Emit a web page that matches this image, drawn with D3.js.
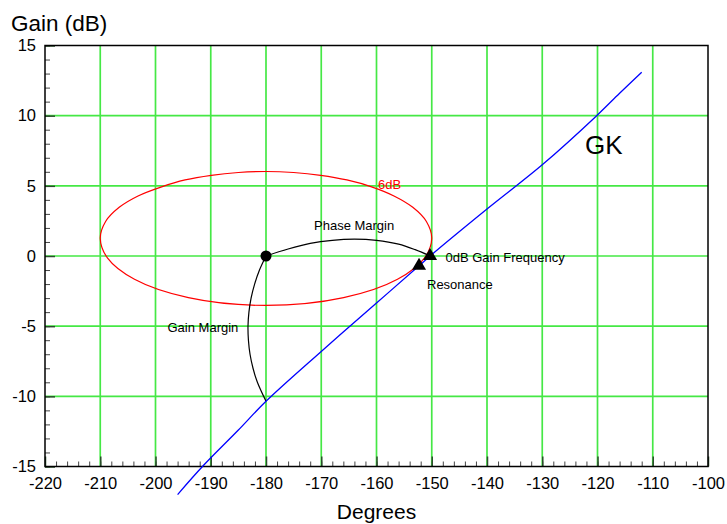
<!DOCTYPE html>
<html>
<head>
<meta charset="utf-8">
<script src="https://cdn.jsdelivr.net/npm/d3@7"></script>
<style>
  body { margin: 0; background: #fff; }
  svg { font-family: "Liberation Sans", Arial, Helvetica, sans-serif; }
</style>
</head>
<body>
<div id="chart"></div>
<script>
// open loop GK (phase in degrees, gain in dB)
var gkPhase = [-196, -191.5, -185, -180, -170, -160, -152.3, -150.3, -140, -130, -120.15, -116, -112];
var gkGain  = [-17, -15, -12.4, -10.35, -6.8, -3.35, -0.7, 0, 3.35, 6.5, 10, 11.6, 13.1];

// 6dB closed loop contour
var mPhase = [-180, -175.01, -170.1, -165.36, -160.89, -156.84, -153.43, -150.97, -150, -151.33, -156.2, -165.95,
              -180, -194.05, -203.8, -208.67, -210, -209.03, -206.57, -203.16, -198.89, -194.64, -189.9, -184.99];
var mGain  = [6.02, 5.95, 5.75, 5.42, 4.93, 4.28, 3.47, 2.46, 1.25, -0.15, -1.66, -2.97,
              -3.52, -2.97, -1.66, -0.15, 1.25, 2.46, 3.47, 4.28, 4.93, 5.42, 5.75, 5.95];

// margin arcs
var pmPhase = [-180, -176, -172, -168, -164, -160, -156, -153, -150.3];
var pmGain  = [0, 0.5, 0.9, 1.12, 1.2, 1.12, 0.85, 0.45, 0];
var gmPhase = [-180, -181.18, -182.06, -182.7, -183.09, -183.26, -183.18, -182.89, -182.35, -181.56, -180];
var gmGain  = [0, -1, -2, -3, -4, -5, -6, -7, -8, -9, -10.35];

// markers
var critPoint = [-180, 0];
var triPoints = [[-150.3, 0], [-152.3, -0.7]];

var xTicks = [-220, -210, -200, -190, -180, -170, -160, -150, -140, -130, -120, -110, -100];
var yTicks = [-15, -10, -5, 0, 5, 10, 15];

var width = 727, height = 524;
var margin = {top: 45.5, right: 19, bottom: 57.5, left: 45};

var svg = d3.select('#chart').append('svg')
  .attr('width', width)
  .attr('height', height);

var x = d3.scaleLinear().domain([-220, -100]).range([margin.left, width - margin.right]);
var y = d3.scaleLinear().domain([-15, 15]).range([height - margin.bottom, margin.top]);

var zip = function(a, b) { return a.map(function(v, i) { return [v, b[i]]; }); };
var plain = function(d) { return String(d); }; // hyphen minus, like the original

// grid
var gridColor = '#45e845';
svg.append('g').selectAll('line')
  .data(xTicks.slice(1, -1)).enter().append('line')
  .attr('x1', function(d) { return x(d); }).attr('x2', function(d) { return x(d); })
  .attr('y1', y(-15)).attr('y2', y(15))
  .attr('stroke', gridColor).attr('stroke-width', 1.7);
svg.append('g').selectAll('line')
  .data(yTicks.slice(1, -1)).enter().append('line')
  .attr('x1', x(-220)).attr('x2', x(-100))
  .attr('y1', function(d) { return y(d); }).attr('y2', function(d) { return y(d); })
  .attr('stroke', gridColor).attr('stroke-width', 1.7);

// minor ticks
var xMinor = d3.range(-220, -99, 2);
var yMinor = d3.range(-15, 15.1, 1);
svg.append('g')
  .attr('transform', 'translate(0,' + y(-15) + ')')
  .call(d3.axisBottom(x).tickValues(xMinor).tickSize(-5).tickFormat(''))
  .call(function(g) { g.select('.domain').remove(); g.selectAll('line').attr('stroke', '#444'); });
svg.append('g')
  .attr('transform', 'translate(' + x(-220) + ',0)')
  .call(d3.axisLeft(y).tickValues(yMinor).tickSize(-5).tickFormat(''))
  .call(function(g) { g.select('.domain').remove(); g.selectAll('line').attr('stroke', '#444'); });

// major ticks + labels
svg.append('g')
  .attr('transform', 'translate(0,' + y(-15) + ')')
  .call(d3.axisBottom(x).tickValues(xTicks).tickSize(-10).tickPadding(11).tickFormat(plain))
  .call(function(g) {
    g.select('.domain').remove();
    g.selectAll('line').attr('stroke', '#2b4f2b').attr('stroke-width', 1.5);
    g.selectAll('text').attr('font-size', 16.5).attr('fill', '#000')
      .attr('font-family', '"Liberation Sans", Arial, sans-serif');
  });
svg.append('g')
  .attr('transform', 'translate(' + x(-220) + ',0)')
  .call(d3.axisLeft(y).tickValues(yTicks).tickSize(-10).tickPadding(9).tickFormat(plain))
  .call(function(g) {
    g.select('.domain').remove();
    g.selectAll('line').attr('stroke', '#2b4f2b').attr('stroke-width', 1.5);
    g.selectAll('text').attr('font-size', 16.5).attr('fill', '#000')
      .attr('font-family', '"Liberation Sans", Arial, sans-serif');
  });

// frame
svg.append('rect')
  .attr('x', x(-220)).attr('y', y(15))
  .attr('width', x(-100) - x(-220)).attr('height', y(-15) - y(15))
  .attr('fill', 'none').attr('stroke', '#000').attr('stroke-width', 1.5);

var line = d3.line()
  .x(function(d) { return x(d[0]); })
  .y(function(d) { return y(d[1]); });

// 6dB contour
svg.append('path')
  .datum(zip(mPhase, mGain))
  .attr('d', line.curve(d3.curveCatmullRomClosed))
  .attr('fill', 'none').attr('stroke', '#f00').attr('stroke-width', 1.2);

// margin arcs
svg.append('path')
  .datum(zip(pmPhase, pmGain))
  .attr('d', line.curve(d3.curveCatmullRom))
  .attr('fill', 'none').attr('stroke', '#000').attr('stroke-width', 1.2);
svg.append('path')
  .datum(zip(gmPhase, gmGain))
  .attr('d', line.curve(d3.curveCatmullRom))
  .attr('fill', 'none').attr('stroke', '#000').attr('stroke-width', 1.2);

// GK
svg.append('path')
  .datum(zip(gkPhase, gkGain))
  .attr('d', line.curve(d3.curveCatmullRom))
  .attr('fill', 'none').attr('stroke', '#0000ff').attr('stroke-width', 1.3);

// markers
svg.append('circle')
  .attr('cx', x(critPoint[0])).attr('cy', y(critPoint[1]))
  .attr('r', 5.5).attr('fill', '#000');
svg.append('g').selectAll('path')
  .data(triPoints).enter().append('path')
  .attr('transform', function(d) { return 'translate(' + x(d[0]) + ',' + y(d[1]) + ')'; })
  .attr('d', d3.symbol().type(d3.symbolTriangle).size(85))
  .attr('fill', '#000');

// annotations
function note(txt, px, py, size, color, anchor) {
  svg.append('text')
    .attr('x', px).attr('y', py)
    .attr('font-size', size)
    .attr('fill', color || '#000')
    .attr('text-anchor', anchor || 'start')
    .text(txt);
}
note('Gain (dB)', 11, 31, 22.5);
note('Degrees', x(-160), 519, 21, '#000', 'middle');
note('GK', 585, 154, 26);
note('6dB', 378, 188.5, 13, '#f00');
note('Phase Margin', 314, 229.5, 13);
note('0dB Gain Frequency', 445.5, 262, 13);
note('Resonance', 427, 288.5, 13);
note('Gain Margin', 167.5, 331.5, 13);
</script>
</body>
</html>
